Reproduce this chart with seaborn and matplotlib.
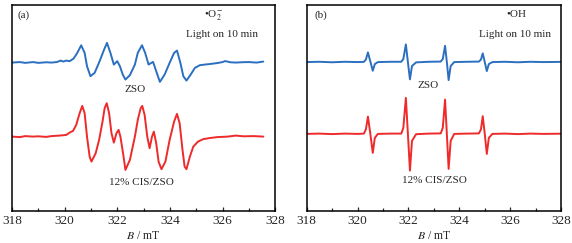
import numpy as np
import pandas as pd
import matplotlib
matplotlib.use("Agg")
import matplotlib.pyplot as plt
import seaborn as sns

# ---- data (B in mT, intensity in a.u.) ----
# panel (a): DMPO-.O2- spectra
a_zso_B = [318.0, 318.3, 318.5, 318.8, 319.0, 319.3, 319.5, 319.7, 319.85, 319.95,
           320.06, 320.19, 320.34, 320.48, 320.63, 320.76, 320.85, 320.98, 321.14,
           321.33, 321.5, 321.61, 321.74, 321.87, 322.0, 322.1, 322.21, 322.31,
           322.48, 322.67, 322.78, 322.94, 323.06, 323.19, 323.36, 323.48, 323.62,
           323.8, 323.99, 324.16, 324.27, 324.4, 324.51, 324.63, 324.79, 324.95,
           325.14, 325.33, 325.5, 325.8, 326.0, 326.1, 326.3, 326.5, 326.8, 327.0,
           327.3, 327.55]
a_zso_I = [0.0, 0.5, -0.3, 0.5, -0.3, 0.3, 0.0, 0.5, 2.0, 1.0,
           2.0, 1.4, 4.0, 9.7, 17.3, 9.7, -3.6, -13.6, -10.3,
           1.4, 13.0, 19.7, 9.7, -2.0, 1.4, -3.6, -12.0, -17.0,
           -12.6, -2.0, 9.7, 17.3, 9.7, -2.0, 0.7, -8.6, -19.3,
           -12.0, -0.3, 9.7, 12.0, -0.3, -13.6, -18.0, -12.0, -5.3,
           -2.6, -2.0, -1.5, -0.5, 0.5, 1.5, 0.3, 0.0, 0.4, 0.5,
           0.0, 1.0]

a_cis_B = [318.0, 318.3, 318.5, 318.8, 319.0, 319.3, 319.5, 319.8, 320.0,
           320.06, 320.19, 320.32, 320.44, 320.57, 320.67, 320.76, 320.85, 320.95,
           321.02, 321.18, 321.31, 321.44, 321.52, 321.6, 321.69, 321.78, 321.87,
           321.97, 322.05, 322.12, 322.23, 322.31, 322.48, 322.67, 322.78, 322.89,
           322.95, 323.04, 323.14, 323.23, 323.32, 323.39, 323.48, 323.57, 323.68,
           323.83, 323.99, 324.16, 324.27, 324.37, 324.48, 324.56, 324.63, 324.76,
           324.89, 325.07, 325.26, 325.5, 325.8, 326.2, 326.5, 326.8, 327.2, 327.55]
a_cis_I = [0.0, -0.5, 0.5, 0.0, 0.3, -0.3, 0.5, 1.0, 1.5,
           1.7, 4.0, 5.7, 11.7, 23.4, 30.7, 23.4, 0.0, -20.0,
           -25.0, -16.6, -3.3, 15.0, 28.4, 33.4, 23.4, 3.4, -6.0,
           3.4, 6.7, 0.0, -18.3, -33.3, -23.3, 0.0, 16.7, 28.4,
           30.7, 21.7, 0.0, -11.6, 0.0, 5.0, -6.6, -25.0, -32.6,
           -25.0, -3.3, 15.0, 22.7, 13.4, -13.3, -30.0, -32.6, -20.0,
           -10.0, -5.0, -2.6, -1.5, -0.5, 0.0, 1.0, 0.3, 0.5, 0.0]

# panel (b): DMPO-.OH spectra
b_zso_B = [318.0, 318.5, 319.0, 319.5, 320.0, 320.25, 320.33, 320.41, 320.5, 320.6,
           320.68, 320.8, 321.3, 321.72, 321.8, 321.9, 321.98, 322.06, 322.14,
           322.3, 322.8, 323.27, 323.35, 323.44, 323.51, 323.58, 323.66, 323.8,
           324.3, 324.77, 324.85, 324.92, 325.0, 325.08, 325.16, 325.3, 325.8,
           326.3, 326.8, 327.3, 328.0]
b_zso_I = [0.0, 0.3, -0.2, 0.3, 0.0, 0.2, 2.5, 9.7, 1.0, -8.7,
           -2.0, 0.0, 0.3, 0.3, 3.0, 17.7, 0.0, -17.3, -4.0,
           -0.3, 0.3, 0.5, 3.0, 16.3, 0.0, -18.0, -4.0, 0.0,
           0.3, 0.5, 2.5, 8.7, 0.0, -9.0, -2.0, 0.0, 0.3,
           -0.2, 0.3, 0.0, 0.2]

b_cis_B = b_zso_B
b_cis_I = [0.0, 0.3, -0.2, 0.3, 0.0, 0.3, 4.5, 17.3, 1.0, -19.0,
           -4.0, 0.0, 0.3, 0.3, 6.0, 36.0, 0.0, -36.7, -7.0,
           -0.3, 0.3, 0.5, 6.0, 34.3, 0.0, -35.0, -7.0, 0.0,
           0.3, 0.5, 4.5, 17.7, 0.0, -20.0, -4.0, 0.0, 0.3,
           -0.2, 0.3, 0.0, 0.2]

blue = "#2b6fc0"
red = "#ee2a2a"

sns.set_style("ticks")
plt.rcParams["font.family"] = ["Liberation Serif", "DejaVu Serif"]
plt.rcParams["mathtext.fontset"] = "stix"
plt.rcParams["font.size"] = 8

fig = plt.figure(figsize=(5.72, 2.43), dpi=100)
ax_a = fig.add_axes([0.021, 0.132, 0.460, 0.848])
ax_b = fig.add_axes([0.536, 0.132, 0.445, 0.848])

panels = [
    (ax_a, a_zso_B, a_zso_I, a_cis_B, a_cis_I, (62.7, 136.7)),
    (ax_b, b_zso_B, b_zso_I, b_cis_B, b_cis_I, (62.2, 134.0)),
]

for ax, zb, zi, cb, ci, (off1, off2) in panels:
    df1 = pd.DataFrame({"B": zb, "I": np.array(zi) - off1})
    df2 = pd.DataFrame({"B": cb, "I": np.array(ci) - off2})
    sns.lineplot(data=df1, x="B", y="I", ax=ax, color=blue, lw=1.4)
    sns.lineplot(data=df2, x="B", y="I", ax=ax, color=red, lw=1.4)
    ax.set_xlim(318, 328)
    ax.set_ylim(-211, -5)
    ax.set_xticks(np.arange(318, 329, 2))
    ax.set_xticks(np.arange(319, 328, 2), minor=True)
    ax.set_yticks([])
    ax.set_ylabel("")
    ax.set_xlabel("$B$ / mT", fontsize=8.5, labelpad=2)
    ax.tick_params(axis="x", which="major", direction="in", length=3, width=0.9,
                   labelsize=9.5, pad=3)
    ax.tick_params(axis="x", which="minor", direction="in", length=2, width=0.9)
    for s in ax.spines.values():
        s.set_linewidth(1.1)
        s.set_color("black")

ax_a.text(0.02, 0.95, "(a)", transform=ax_a.transAxes, ha="left", va="center")
ax_a.text(0.764, 0.951, "•O$_2^{-}$", transform=ax_a.transAxes, ha="center", va="center")
ax_a.text(0.797, 0.858, "Light on 10 min", transform=ax_a.transAxes, ha="center", va="center")
ax_a.text(0.468, 0.591, "ZSO", transform=ax_a.transAxes, ha="center", va="center")
ax_a.text(0.493, 0.137, "12% CIS/ZSO", transform=ax_a.transAxes, ha="center", va="center")

ax_b.text(0.033, 0.95, "(b)", transform=ax_b.transAxes, ha="left", va="center")
ax_b.text(0.823, 0.951, "•OH", transform=ax_b.transAxes, ha="center", va="center")
ax_b.text(0.820, 0.858, "Light on 10 min", transform=ax_b.transAxes, ha="center", va="center")
ax_b.text(0.476, 0.607, "ZSO", transform=ax_b.transAxes, ha="center", va="center")
ax_b.text(0.502, 0.150, "12% CIS/ZSO", transform=ax_b.transAxes, ha="center", va="center")

fig.savefig("out.png", dpi=100)
